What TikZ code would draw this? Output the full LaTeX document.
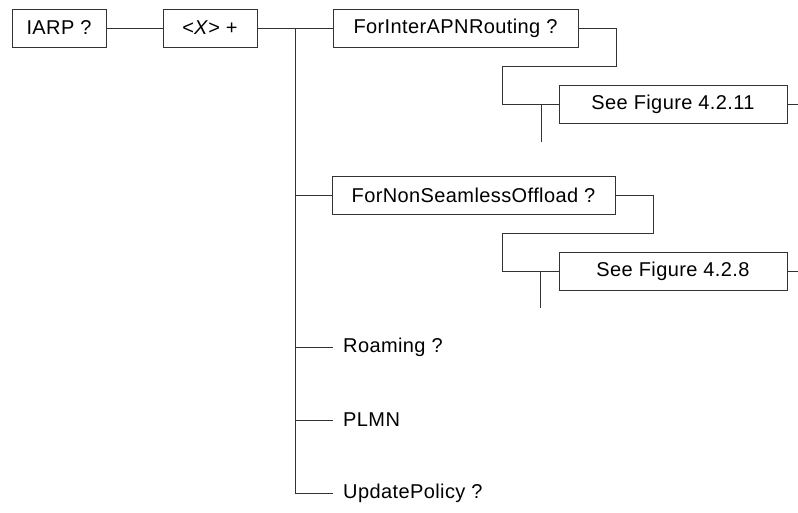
\documentclass[tikz,border=0pt]{standalone}
\usepackage{fontspec}
\setmainfont[LetterSpace=2]{Liberation Sans}
\begin{document}
\begin{tikzpicture}[x=1pt,y=-1pt,
  box/.style={draw=black!80, line width=0.8pt, minimum height=38pt, inner sep=0pt, font=\fontsize{20}{24}\selectfont},
  leaf/.style={anchor=west, inner xsep=10pt, inner ysep=0pt, font=\fontsize{20}{24}\selectfont},
  conn/.style={draw=black!80, line width=0.8pt}]
\useasboundingbox (0,0) rectangle (798,513);
\node[box, minimum width=94pt] (iarp) at (59,28) {IARP ?};
\node[box, minimum width=94pt] (x) at (210,28) {<\textit{X}> +};
\node[box, minimum width=245pt] (fiar) at (455.5,28) {ForInterAPNRouting ?};
\node[box, minimum width=228pt] (sf1) at (673,104) {See Figure 4.2.11};
\node[box, minimum width=283pt] (fnso) at (473.5,195) {ForNonSeamlessOffload ?};
\node[box, minimum width=228pt] (sf2) at (673,271) {See Figure 4.2.8};
\node[leaf] (roam) at (333,347) {Roaming ?};
\node[leaf] (plmn) at (333,420) {PLMN};
\node[leaf] (upd) at (333,493) {UpdatePolicy ?};
\coordinate (t0) at (295,28);
\coordinate (tend) at (295,493);
\coordinate (e1) at (798,104);
\coordinate (e2) at (798,271);
\coordinate (s1a) at (541,104);
\coordinate (s1b) at (541,142);
\coordinate (s2a) at (540,271);
\coordinate (s2b) at (540,308);
\draw[conn] (iarp.east) -- (x.west);
\draw[conn] (x.east) -- (fiar.west);
\draw[conn] (t0) -- (tend);
\draw[conn] (fiar.east) -- (616,28) -- (616,66) -- (502,66) -- (502,104) -- (sf1.west);
\draw[conn] (s1a) -- (s1b);
\draw[conn] (sf1.east) -- (e1);
\draw[conn] (295,195) -- (fnso.west);
\draw[conn] (fnso.east) -- (653,195) -- (653,233) -- (502,233) -- (502,271) -- (sf2.west);
\draw[conn] (s2a) -- (s2b);
\draw[conn] (sf2.east) -- (e2);
\draw[conn] (295,347) -- (roam.west);
\draw[conn] (295,420) -- (plmn.west);
\draw[conn] (tend) -- (upd.west);
\end{tikzpicture}
\end{document}
